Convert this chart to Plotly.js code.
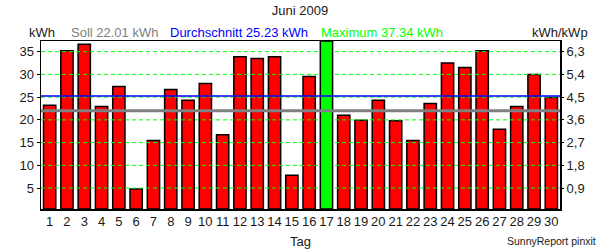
<!DOCTYPE html>
<html>
<head>
<meta charset="utf-8">
<script src="https://cdn.plot.ly/plotly-3.0.1.min.js"></script>
<style>
html,body{margin:0;padding:0;background:#fff;}
#chart{width:600px;height:250px;}
</style>
</head>
<body>
<div id="chart"></div>
<script>
// Data (Juni 2009, daily yield in kWh)
const days = [1,2,3,4,5,6,7,8,9,10,11,12,13,14,15,16,17,18,19,20,21,22,23,24,25,26,27,28,29,30];
const energy = [23.2,35.2,36.6,22.95,27.35,4.8,15.45,26.7,24.3,28.0,
                16.75,33.9,33.5,33.9,7.8,29.56,37.34,21.0,19.93,24.3,
                19.8,15.45,23.6,32.5,31.5,35.2,17.95,22.95,30.0,24.9];
const soll = 22.01;
const average = 25.23;
const maximum = 37.34;
const kWp = 5 / 0.9;               // kWh per kWh/kWp
const leftTicks = [5,10,15,20,25,30,35];
const rightTicks = [0.9,1.8,2.7,3.6,4.5,5.4,6.3];
const yMin = 0.4;

const barColors = energy.map(v => v === maximum ? '#00FF00' : '#FF0000');

const font = 'Liberation Sans, Arial, sans-serif';
const textColor = '#1a1a1a';
const fs = 13;

const shapes = [];
leftTicks.forEach(t => shapes.push({
  type:'line', xref:'paper', yref:'y', x0:0, x1:1, y0:t, y1:t,
  line:{color:'#00FF00', width:1, dash:'4px,3px'}, layer:'above'
}));
shapes.push({type:'line', xref:'paper', yref:'y', x0:0, x1:1, y0:soll, y1:soll,
  line:{color:'#808080', width:3}, layer:'above'});
shapes.push({type:'line', xref:'paper', yref:'y', x0:0, x1:1, y0:average, y1:average,
  line:{color:'#0000FF', width:1.5}, layer:'above'});

const W = 600, H = 250, L = 41, R = 40, T = 41, B = 41;
const pw = W - L - R, ph = H - T - B;
const px = x => (x - L) / pw;
const py = y => (H - B - y) / ph;

const annotations = [
  {text:'kWh', x:px(27), y:py(33), xanchor:'left', color:textColor, size:fs},
  {text:'Soll ' + soll.toFixed(2) + ' kWh', x:px(69), y:py(33), xanchor:'left', color:'#808080', size:fs},
  {text:'Durchschnitt ' + average.toFixed(2) + ' kWh', x:px(168), y:py(33), xanchor:'left', color:'#0000FF', size:fs},
  {text:'Maximum ' + maximum.toFixed(2) + ' kWh', x:px(319), y:py(33), xanchor:'left', color:'#00FF00', size:fs},
  {text:'kWh/kWp', x:px(590), y:py(33), xanchor:'right', color:textColor, size:fs},
  {text:'Tag', x:px(300), y:py(241), xanchor:'center', color:textColor, size:fs},
  {text:'SunnyReport pinxit', x:px(598), y:py(241), xanchor:'right', color:textColor, size:10.5}
].map(a => ({text:a.text, x:a.x, y:a.y, xref:'paper', yref:'paper', xanchor:a.xanchor,
  yanchor:'middle', showarrow:false, font:{family:font, size:a.size, color:a.color}}));

const trace = {
  type:'bar', x:days, y:energy.map(v => v - yMin), base:yMin,
  marker:{color:barColors, line:{color:'#000', width:1.5}},
  width:0.71, hoverinfo:'skip'
};

const ghost = {type:'scatter', x:[days[0]], y:[rightTicks[0]], yaxis:'y2', mode:'markers',
  marker:{opacity:0}, hoverinfo:'skip', showlegend:false};

const layout = {
  width:W, height:H,
  margin:{l:L, r:R, t:T, b:B, pad:0},
  paper_bgcolor:'#fff', plot_bgcolor:'#fff',
  showlegend:false,
  separators:',.',
  font:{family:font, size:fs, color:textColor},
  title:{text:'Juni 2009', x:0.5, xanchor:'center', y:1 - 10/H, yanchor:'middle', yref:'container',
    font:{family:font, size:fs, color:textColor}},
  xaxis:{range:[0.5, 30.5], tickvals:days, ticktext:days.map(String), showgrid:false,
    showline:true, linecolor:'#000', linewidth:1.5, mirror:true, ticks:'', ticklen:0,
    tickfont:{family:font, size:fs, color:textColor}, zeroline:false, fixedrange:true},
  yaxis:{range:[yMin, maximum], tickvals:leftTicks, showgrid:false, zeroline:false,
    showline:true, linecolor:'#000', linewidth:1.5, mirror:true, ticks:'outside', ticklen:3,
    tickcolor:'#000', tickfont:{family:font, size:fs, color:textColor}},
  yaxis2:{overlaying:'y', side:'right', range:[yMin / kWp, maximum / kWp], tickvals:rightTicks,
    tickformat:'.1f', showgrid:false, zeroline:false, showline:false, ticks:'outside', ticklen:3,
    tickcolor:'#000', tickfont:{family:font, size:fs, color:textColor}},
  shapes:shapes,
  annotations:annotations
};

Plotly.newPlot('chart', [trace, ghost], layout, {staticPlot:true, displayModeBar:false});
</script>
</body>
</html>
